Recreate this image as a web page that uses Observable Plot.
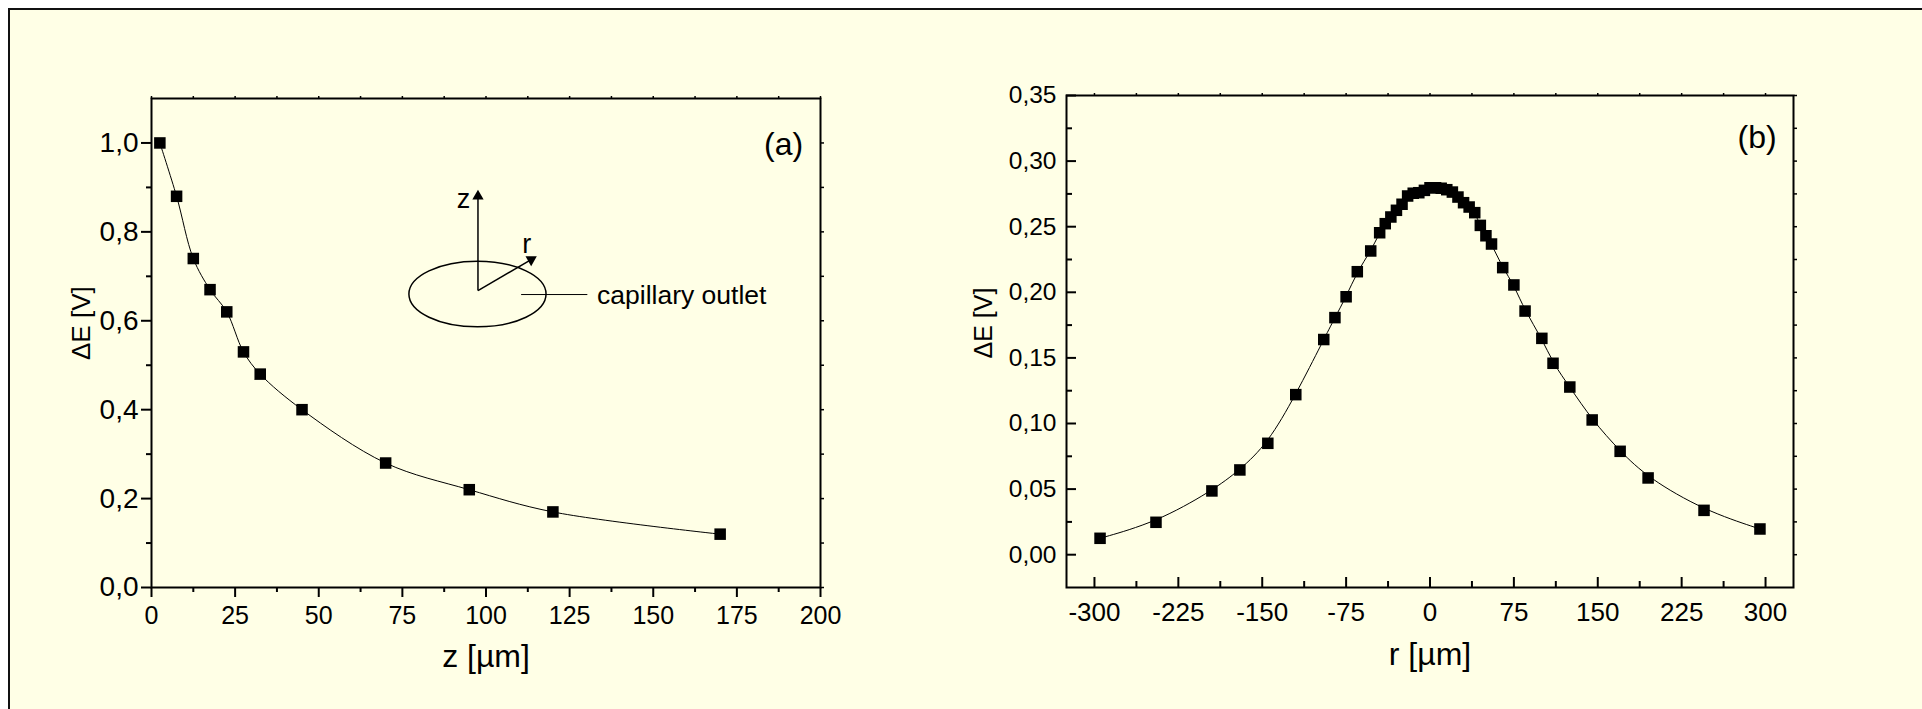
<!DOCTYPE html>
<html><head><meta charset="utf-8">
<script src="https://cdn.jsdelivr.net/npm/d3@7"></script>
<script src="https://cdn.jsdelivr.net/npm/@observablehq/plot@0.6"></script>
<style>
body{margin:0;background:#fff;}
#wrap{position:relative;width:1922px;height:709px;overflow:hidden;}
#bg{position:absolute;left:8px;top:8px;width:2000px;height:800px;background:#FFFFE6;border:2px solid #111;}
#a{position:absolute;left:0;top:0;}
#b{position:absolute;left:960px;top:0;}
</style></head><body>
<div id="wrap"><div id="bg"></div><div id="a"></div><div id="b"></div></div>
<script>
// ---- Panel (a) data: ΔE vs z ----
const zA = [2.5, 7.5, 12.5, 17.5, 22.5, 27.5, 32.5, 45, 70, 95, 120, 170];
const eA = [1.00, 0.88, 0.74, 0.67, 0.62, 0.53, 0.48, 0.40, 0.28, 0.22, 0.17, 0.12];

// ---- Panel (b) data: ΔE vs r ----
const rB = [-295, -245, -195, -170, -145, -120, -95, -85, -75, -65, -53, -45, -40, -35, -30, -25, -20, -15, -10, -5, 0,
            5, 10, 15, 20, 25, 30, 35, 40, 45, 50, 55, 65, 75, 85, 100, 110, 125, 145, 170, 195, 245, 295];
const eB = [0.0125, 0.0247, 0.0486, 0.0646, 0.0849, 0.122, 0.164, 0.1807, 0.1966, 0.2157, 0.2315, 0.2454, 0.2523, 0.2574, 0.2625, 0.2671, 0.2734, 0.2755, 0.2759, 0.2777, 0.2797,
            0.2797, 0.2793, 0.2782, 0.2764, 0.2726, 0.2683, 0.265, 0.2607, 0.251, 0.2431, 0.2368, 0.2188, 0.2056, 0.1857, 0.1649, 0.1459, 0.1278, 0.1027, 0.0788, 0.0585, 0.0338, 0.0196];

// ---- ticks ----
const xTicksA = [0, 25, 50, 75, 100, 125, 150, 175, 200];
const xMinorA = [12.5, 37.5, 62.5, 87.5, 112.5, 137.5, 162.5, 187.5];
const yTicksA = [0, 0.2, 0.4, 0.6, 0.8, 1.0];
const yMinorA = [0.1, 0.3, 0.5, 0.7, 0.9];
const xTicksB = [-300, -225, -150, -75, 0, 75, 150, 225, 300];
const xMinorB = [-262.5, -187.5, -112.5, -37.5, 37.5, 112.5, 187.5, 262.5];
const yTicksB = [0, 0.05, 0.10, 0.15, 0.20, 0.25, 0.30, 0.35];
const yMinorB = [0.025, 0.075, 0.125, 0.175, 0.225, 0.275, 0.325];

// ---- annotation (panel a, data coordinates) ----
const sketchOrigin = {x: 97.6, y: 0.668};
const zArrowTip = {x: 97.6, y: 0.880};
const rArrowTip = {x: 113.5, y: 0.7376};
const ellipseA = {cx: 97.6, cy: 0.659, rx: 20.5, ry: 0.0738};
const leaderA = {x1: 110.5, x2: 130.3, y: 0.659};
const axisLettersA = [{x: 93.3, y: 0.873, t: "z"}, {x: 112.2, y: 0.771, t: "r"}];
const outletLabelA = [{x: 133.2, y: 0.657, t: "capillary outlet"}];
const panelTagA = [{x: 194.8, y: 0.997, t: "(a)"}];
const panelTagB = [{x: 310, y: 0.318, t: "(b)"}];

const font = "'Liberation Sans', Arial, sans-serif";
const style = {background: "transparent", fontFamily: font, fontSize: "25px", color: "#000", overflow: "visible"};
const fmtA = d => d.toFixed(1).replace(".", ",");
const fmtB = d => d.toFixed(2).replace(".", ",");
const blank = () => "";

const plotA = Plot.plot({
  width: 960, height: 709,
  marginLeft: 151, marginRight: 140, marginTop: 98, marginBottom: 122,
  x: {domain: [0, 200]}, y: {domain: [0, 1.1]},
  style,
  marks: [
    Plot.axisY(yTicksA, {anchor: "left", tickSize: 10, tickPadding: 3, strokeWidth: 2, tickFormat: fmtA, label: null, fontSize: 28}),
    Plot.axisY(yMinorA, {anchor: "left", tickSize: 5, strokeWidth: 2, tickFormat: blank, label: null}),
    Plot.axisY([...yTicksA, ...yMinorA], {anchor: "right", tickSize: 3, strokeWidth: 1.5, tickFormat: blank, label: null}),
    Plot.axisX(xTicksA, {anchor: "bottom", tickSize: 10, tickPadding: 9, strokeWidth: 2, tickFormat: d => String(d), label: null, fontSize: 25}),
    Plot.axisX(xMinorA, {anchor: "bottom", tickSize: 5, strokeWidth: 2, tickFormat: blank, label: null}),
    Plot.axisX([...xTicksA, ...xMinorA], {anchor: "top", tickSize: 3, strokeWidth: 1.5, tickFormat: blank, label: null}),
    Plot.frame({stroke: "#000", strokeWidth: 2}),
    Plot.text(["z [µm]"], {text: d => d, frameAnchor: "bottom", dy: 79, fontSize: 32}),
    Plot.text(["ΔE [V]"], {text: d => d, frameAnchor: "left", rotate: -90, dx: -70, dy: 17, fontSize: 26}),
    Plot.line(eA, {x: zA, y: eA, curve: "catmull-rom", stroke: "#000", strokeWidth: 1}),
    Plot.dot(eA, {x: zA, y: eA, symbol: "square", r: 6.5, fill: "#000", stroke: "none"}),
    // sketch of the capillary outlet
    Plot.link([0, 1], {
      x1: [sketchOrigin.x, sketchOrigin.x], y1: [sketchOrigin.y, sketchOrigin.y],
      x2: [zArrowTip.x, rArrowTip.x], y2: [zArrowTip.y, rArrowTip.y],
      stroke: "#000", strokeWidth: 1.5
    }),
    Plot.dot([0, 1], {x: [zArrowTip.x, rArrowTip.x], y: [zArrowTip.y, rArrowTip.y], rotate: [0, 60],
      symbol: "triangle", r: 4.2, fill: "#000", stroke: "none"}),
    Plot.link([leaderA], {x1: "x1", x2: "x2", y1: "y", y2: "y", stroke: "#000", strokeWidth: 1}),
    Plot.text(axisLettersA, {x: "x", y: "y", text: "t", textAnchor: "middle", fontSize: 27}),
    Plot.text(outletLabelA, {x: "x", y: "y", text: "t", textAnchor: "start", fontSize: 26.5}),
    Plot.text(panelTagA, {x: "x", y: "y", text: "t", textAnchor: "end", fontSize: 32})
  ]
});
document.getElementById("a").append(plotA);

// ellipse of the capillary outlet sketch
{
  const sx = plotA.scale("x"), sy = plotA.scale("y");
  const cx = sx.apply(ellipseA.cx), cy = sy.apply(ellipseA.cy);
  d3.select(plotA).append("ellipse")
    .attr("cx", cx).attr("cy", cy)
    .attr("rx", sx.apply(ellipseA.cx + ellipseA.rx) - cx)
    .attr("ry", cy - sy.apply(ellipseA.cy + ellipseA.ry))
    .attr("fill", "none").attr("stroke", "#000").attr("stroke-width", 1.5);
}

const plotB = Plot.plot({
  width: 962, height: 709,
  marginLeft: 106, marginRight: 129, marginTop: 95, marginBottom: 122,
  x: {domain: [-325, 325]}, y: {domain: [-0.025, 0.35]},
  style,
  marks: [
    Plot.axisY(yTicksB, {anchor: "left", tickSize: -10, strokeWidth: 2, tickFormat: blank, label: null}),
    Plot.axisY(yTicksB, {anchor: "left", tickSize: 0, tickPadding: 10, tickFormat: fmtB, label: null, fontSize: 24.5}),
    Plot.axisY(yMinorB, {anchor: "left", tickSize: -6, strokeWidth: 2, tickFormat: blank, label: null}),
    Plot.axisY([...yTicksB, ...yMinorB], {anchor: "right", tickSize: 3, strokeWidth: 1.5, tickFormat: blank, label: null}),
    Plot.axisX(xTicksB, {anchor: "bottom", tickSize: -10, strokeWidth: 2, tickFormat: blank, label: null}),
    Plot.axisX(xTicksB, {anchor: "bottom", tickSize: 0, tickPadding: 15, tickFormat: d => String(d), label: null, fontSize: 26}),
    Plot.axisX(xMinorB, {anchor: "bottom", tickSize: -6, strokeWidth: 2, tickFormat: blank, label: null}),
    Plot.axisX([...xTicksB, ...xMinorB], {anchor: "top", tickSize: 3, strokeWidth: 1.5, tickFormat: blank, label: null}),
    Plot.frame({stroke: "#000", strokeWidth: 2}),
    Plot.text(["r [µm]"], {text: d => d, frameAnchor: "bottom", dy: 77, fontSize: 32}),
    Plot.text(["ΔE [V]"], {text: d => d, frameAnchor: "left", rotate: -90, dx: -83, dy: 17, fontSize: 25}),
    Plot.line(eB, {x: rB, y: eB, curve: "basis", stroke: "#000", strokeWidth: 1}),
    Plot.dot(eB, {x: rB, y: eB, symbol: "square", r: 6.5, fill: "#000", stroke: "none"}),
    Plot.text(panelTagB, {x: "x", y: "y", text: "t", textAnchor: "end", fontSize: 32})
  ]
});
document.getElementById("b").append(plotB);
</script>
</body></html>
